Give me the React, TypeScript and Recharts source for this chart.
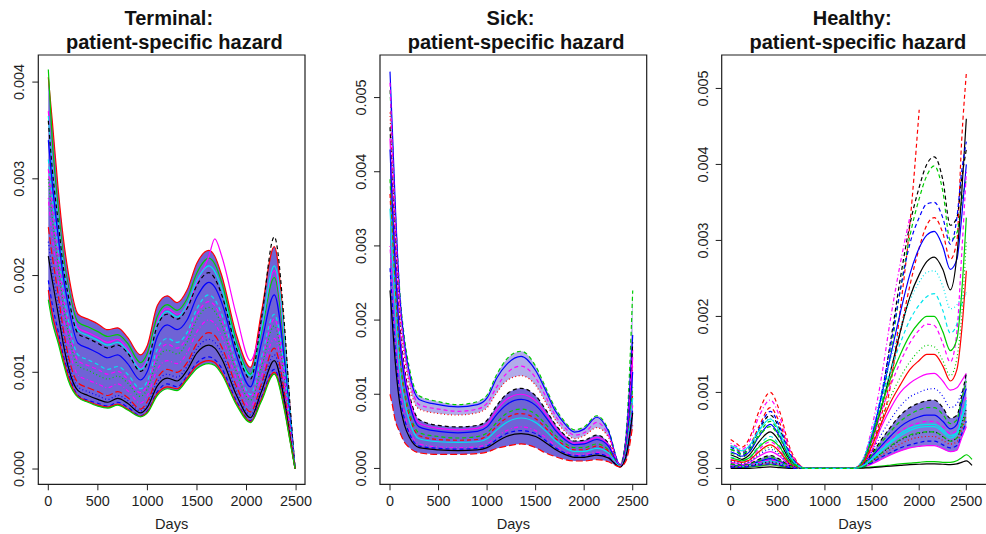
import { Area, ComposedChart, Line, ReferenceArea, XAxis, YAxis } from "recharts";

const FONT = "'Liberation Sans', Arial, Helvetica, sans-serif";
const INK = "#1e1e1e";
const BAND = "#3f2fc8";

// R's default palette and line types, as matplot cycles them
const COL: Record<string, string> = {
  black: "#000000",
  red: "#ff0000",
  green: "#00cd00",
  blue: "#0000ff",
  cyan: "#00e5ee",
  magenta: "#ff00ff",
};
const LTY: Record<string, string | undefined> = {
  solid: undefined,
  dashed: "4 3",
  dotted: "1 2.5",
  dotdash: "1 2.5 4 2.5",
  longdash: "7 3",
};

const dayTicks = [0, 500, 1000, 1500, 2000, 2500];

// hazard values below are in units of 0.001

// ---- Terminal ----
const terminalDays = [0, 40, 100, 150, 200, 300, 400, 500, 600, 700, 800, 930, 1000, 1100, 1200, 1300, 1400, 1500, 1620, 1680, 1750, 1900, 2040, 2150, 2280, 2380, 2440, 2490];
const terminalHazard = [
  [4.05, 3.6, 2.89, 2.4, 2.04, 1.6, 1.55, 1.5, 1.44, 1.46, 1.36, 1.18, 1.28, 1.69, 1.79, 1.72, 1.85, 2.13, 2.26, 2.2, 2.0, 1.38, 1.05, 1.62, 2.3, 1.45, 0.62, 0],
  [4.13, 3.4, 2.7, 2.22, 1.9, 1.52, 1.47, 1.42, 1.37, 1.39, 1.3, 1.1, 1.2, 1.58, 1.7, 1.64, 1.76, 2.03, 2.18, 2.12, 1.93, 1.3, 0.98, 1.42, 1.98, 1.28, 0.56, 0],
  [3.7, 3.2, 2.6, 2.15, 1.85, 1.46, 1.41, 1.36, 1.31, 1.34, 1.24, 1.04, 1.14, 1.52, 1.66, 1.6, 1.68, 1.93, 2.2, 2.38, 2.2, 1.58, 1.12, 1.48, 2.05, 1.35, 0.6, 0],
  [3.65, 3.15, 2.58, 2.12, 1.82, 1.43, 1.38, 1.33, 1.28, 1.31, 1.22, 1.03, 1.12, 1.5, 1.63, 1.57, 1.7, 1.95, 2.1, 2.04, 1.86, 1.27, 0.96, 1.45, 2.1, 1.4, 0.6, 0],
  [3.6, 3.1, 2.55, 2.1, 1.8, 1.4, 1.35, 1.3, 1.25, 1.28, 1.2, 1.01, 1.1, 1.48, 1.6, 1.55, 1.66, 1.9, 2.03, 1.97, 1.8, 1.24, 0.93, 1.55, 2.4, 1.52, 0.64, 0],
  [3.4, 2.95, 2.4, 2.0, 1.7, 1.3, 1.25, 1.2, 1.15, 1.18, 1.09, 0.92, 1.01, 1.37, 1.49, 1.44, 1.54, 1.78, 1.93, 1.88, 1.72, 1.17, 0.85, 1.3, 1.8, 1.15, 0.5, 0],
  [3.2, 2.8, 2.25, 1.85, 1.55, 1.18, 1.13, 1.08, 1.03, 1.06, 0.98, 0.83, 0.91, 1.24, 1.35, 1.31, 1.41, 1.66, 1.8, 1.75, 1.6, 1.08, 0.77, 1.15, 1.6, 1.04, 0.45, 0],
  [3.1, 2.7, 2.18, 1.78, 1.49, 1.12, 1.07, 1.03, 0.98, 1.01, 0.93, 0.79, 0.87, 1.18, 1.29, 1.25, 1.36, 1.6, 1.73, 1.69, 1.54, 1.04, 0.74, 1.1, 1.55, 1.0, 0.43, 0],
  [3.0, 2.6, 2.1, 1.7, 1.42, 1.07, 1.02, 0.97, 0.93, 0.96, 0.89, 0.75, 0.83, 1.13, 1.23, 1.19, 1.31, 1.55, 1.67, 1.63, 1.49, 1.0, 0.71, 1.05, 1.48, 0.95, 0.41, 0],
  [2.8, 2.4, 1.95, 1.58, 1.3, 0.97, 0.92, 0.88, 0.84, 0.88, 0.81, 0.68, 0.76, 1.03, 1.12, 1.09, 1.2, 1.42, 1.54, 1.5, 1.37, 0.92, 0.64, 0.95, 1.35, 0.88, 0.38, 0],
  [2.5, 2.2, 1.8, 1.45, 1.18, 0.89, 0.84, 0.8, 0.76, 0.8, 0.74, 0.62, 0.7, 0.94, 1.03, 1.0, 1.1, 1.3, 1.41, 1.38, 1.26, 0.85, 0.59, 0.88, 1.25, 0.8, 0.35, 0],
  [2.35, 2.05, 1.7, 1.38, 1.12, 0.85, 0.8, 0.76, 0.72, 0.76, 0.71, 0.6, 0.67, 0.9, 0.98, 0.95, 1.06, 1.25, 1.34, 1.31, 1.2, 0.8, 0.56, 0.84, 1.18, 0.76, 0.33, 0],
  [2.2, 1.95, 1.6, 1.3, 1.06, 0.81, 0.76, 0.72, 0.69, 0.73, 0.68, 0.58, 0.64, 0.86, 0.94, 0.91, 1.02, 1.2, 1.28, 1.25, 1.14, 0.76, 0.53, 0.8, 1.12, 0.72, 0.32, 0],
  [1.95, 1.7, 1.42, 1.18, 1.0, 0.76, 0.71, 0.68, 0.65, 0.69, 0.64, 0.55, 0.6, 0.8, 0.88, 0.85, 0.96, 1.1, 1.16, 1.13, 1.04, 0.7, 0.5, 0.74, 1.03, 0.66, 0.3, 0],
  [1.85, 1.6, 1.36, 1.14, 0.96, 0.75, 0.7, 0.66, 0.64, 0.67, 0.62, 0.545, 0.59, 0.78, 0.85, 0.83, 0.94, 1.07, 1.12, 1.1, 1.0, 0.68, 0.49, 0.72, 1.0, 0.64, 0.29, 0],
  [1.75, 1.52, 1.3, 1.1, 0.92, 0.74, 0.69, 0.65, 0.63, 0.66, 0.61, 0.54, 0.58, 0.76, 0.83, 0.81, 0.92, 1.04, 1.09, 1.07, 0.98, 0.66, 0.48, 0.7, 0.98, 0.62, 0.28, 0],
];
const terminalStyle = [
  ["red", "solid"], ["green", "solid"], ["magenta", "solid"], ["cyan", "solid"],
  ["black", "dashed"], ["blue", "solid"], ["cyan", "dashed"], ["magenta", "dashed"],
  ["green", "dotted"], ["magenta", "dotdash"], ["red", "longdash"], ["blue", "dotted"],
  ["black", "solid"], ["blue", "dashed"], ["red", "solid"], ["green", "solid"],
];

// ---- Sick ----
const sickDays = [0, 25, 50, 100, 150, 200, 300, 500, 700, 900, 1000, 1100, 1200, 1350, 1500, 1600, 1700, 1800, 1900, 2000, 2130, 2250, 2370, 2430, 2500];
const sickHazard = [
  [5.1, 4.4, 3.6, 2.4, 1.75, 1.35, 0.98, 0.9, 0.86, 0.9, 0.99, 1.27, 1.47, 1.58, 1.38, 1.1, 0.82, 0.63, 0.52, 0.56, 0.71, 0.52, 0.05, 0.45, 2.4],
  [5.35, 4.55, 3.7, 2.35, 1.68, 1.28, 0.93, 0.86, 0.83, 0.86, 0.95, 1.22, 1.4, 1.51, 1.32, 1.06, 0.78, 0.6, 0.49, 0.53, 0.69, 0.5, 0.05, 0.4, 1.8],
  [5.2, 4.3, 3.5, 2.25, 1.6, 1.22, 0.86, 0.8, 0.77, 0.8, 0.88, 1.1, 1.28, 1.38, 1.22, 0.98, 0.72, 0.55, 0.45, 0.48, 0.62, 0.45, 0.04, 0.35, 1.6],
  [4.8, 4.0, 3.3, 2.1, 1.5, 1.12, 0.8, 0.74, 0.72, 0.75, 0.82, 1.02, 1.18, 1.25, 1.12, 0.9, 0.66, 0.5, 0.4, 0.44, 0.55, 0.42, 0.04, 0.32, 1.4],
  [4.6, 3.8, 3.1, 1.95, 1.35, 1.0, 0.66, 0.58, 0.56, 0.58, 0.65, 0.85, 1.0, 1.08, 0.98, 0.8, 0.6, 0.45, 0.37, 0.38, 0.45, 0.34, 0.04, 0.3, 1.7],
  [4.45, 3.65, 2.97, 1.85, 1.28, 0.94, 0.61, 0.54, 0.52, 0.54, 0.6, 0.79, 0.93, 1.0, 0.91, 0.75, 0.56, 0.42, 0.34, 0.35, 0.42, 0.32, 0.04, 0.29, 1.5],
  [4.3, 3.5, 2.85, 1.75, 1.2, 0.88, 0.56, 0.5, 0.48, 0.5, 0.56, 0.73, 0.86, 0.93, 0.85, 0.7, 0.52, 0.39, 0.32, 0.33, 0.39, 0.3, 0.03, 0.28, 1.3],
  [3.9, 3.2, 2.55, 1.55, 1.05, 0.76, 0.48, 0.43, 0.41, 0.43, 0.48, 0.62, 0.74, 0.8, 0.73, 0.6, 0.45, 0.34, 0.28, 0.28, 0.33, 0.25, 0.03, 0.25, 1.1],
  [3.7, 3.02, 2.4, 1.45, 0.97, 0.7, 0.44, 0.39, 0.38, 0.39, 0.44, 0.57, 0.68, 0.74, 0.67, 0.55, 0.41, 0.31, 0.25, 0.25, 0.3, 0.23, 0.03, 0.23, 1.0],
  [3.5, 2.85, 2.25, 1.35, 0.9, 0.64, 0.4, 0.36, 0.35, 0.36, 0.4, 0.52, 0.62, 0.68, 0.62, 0.51, 0.38, 0.28, 0.23, 0.23, 0.27, 0.21, 0.03, 0.22, 0.95],
  [3.0, 2.45, 1.9, 1.12, 0.74, 0.52, 0.33, 0.29, 0.28, 0.29, 0.33, 0.43, 0.51, 0.56, 0.51, 0.42, 0.31, 0.23, 0.19, 0.19, 0.22, 0.17, 0.02, 0.2, 0.85],
  [2.7, 2.2, 1.7, 1.0, 0.66, 0.47, 0.3, 0.27, 0.26, 0.27, 0.3, 0.39, 0.47, 0.51, 0.47, 0.38, 0.28, 0.21, 0.17, 0.17, 0.2, 0.15, 0.02, 0.18, 0.8],
  [2.4, 1.95, 1.5, 0.88, 0.58, 0.42, 0.28, 0.25, 0.24, 0.25, 0.28, 0.36, 0.43, 0.47, 0.43, 0.35, 0.26, 0.19, 0.15, 0.15, 0.18, 0.14, 0.02, 0.16, 0.75],
  [1.0, 0.85, 0.67, 0.49, 0.35, 0.28, 0.21, 0.19, 0.19, 0.2, 0.22, 0.27, 0.3, 0.33, 0.28, 0.21, 0.16, 0.12, 0.1, 0.1, 0.12, 0.09, 0.02, 0.1, 0.58],
];
const sickStyle = [
  ["green", "dashed"], ["blue", "solid"], ["magenta", "dashed"], ["red", "dotted"],
  ["black", "dashed"], ["magenta", "solid"], ["blue", "solid"], ["green", "dashed"],
  ["red", "dashed"], ["cyan", "solid"], ["magenta", "dotdash"], ["blue", "dashed"],
  ["black", "solid"], ["red", "longdash"],
];

// ---- Healthy ----
const healthyDays = [0, 60, 120, 200, 300, 420, 520, 620, 720, 800, 1300, 1400, 1500, 1600, 1700, 1800, 1900, 2000, 2080, 2160, 2250, 2330, 2400, 2450, 2500, 2560];
const healthyHazard: (number | null)[][] = [
  [0.38, 0.33, 0.28, 0.4, 0.75, 1.0, 0.75, 0.3, 0.06, 0, 0, 0.03, 0.22, 0.6, 1.12, 2.1, 3.2, 4.72, null, null, null, null, null, null, null, null],
  [0.3, 0.26, 0.22, 0.3, 0.55, 0.8, 0.6, 0.25, 0.05, 0, 0, 0.05, 0.3, 0.7, 1.2, 1.8, 2.4, 2.9, 3.2, 3.3, 3.1, 2.75, 3.0, 4.3, 5.2, null],
  [0.25, 0.22, 0.18, 0.25, 0.5, 0.7, 0.52, 0.2, 0.04, 0, 0, 0.08, 0.4, 0.95, 1.7, 2.5, 3.2, 3.7, 4.0, 4.1, 3.8, 3.2, 3.3, 3.8, 4.2, null],
  [0.2, 0.18, 0.15, 0.22, 0.45, 0.62, 0.45, 0.18, 0.03, 0, 0, 0.07, 0.35, 0.85, 1.55, 2.35, 3.05, 3.55, 3.85, 3.98, 3.65, 3.0, 3.1, 3.5, 3.8, null],
  [0.22, 0.19, 0.16, 0.22, 0.42, 0.58, 0.42, 0.15, 0.03, 0, 0, 0.1, 0.45, 0.95, 1.5, 2.05, 2.55, 2.9, 3.07, 3.12, 2.92, 2.62, 2.75, 3.3, 4.0, null],
  [0.18, 0.15, 0.12, 0.18, 0.35, 0.48, 0.35, 0.12, 0.02, 0, 0, 0.08, 0.38, 0.8, 1.3, 1.8, 2.25, 2.55, 2.72, 2.78, 2.62, 2.35, 2.8, 3.6, 4.6, null],
  [0.15, 0.13, 0.1, 0.15, 0.3, 0.42, 0.3, 0.1, 0.02, 0, 0, 0.1, 0.45, 0.9, 1.3, 1.65, 1.95, 2.15, 2.26, 2.3, 2.08, 1.78, 1.9, 2.15, 2.32, null],
  [0.12, 0.1, 0.08, 0.12, 0.25, 0.35, 0.25, 0.08, 0.01, 0, 0, 0.07, 0.35, 0.75, 1.1, 1.4, 1.65, 1.82, 1.9, 1.88, 1.65, 1.4, 1.8, 2.8, 3.9, null],
  [0.1, 0.09, 0.07, 0.1, 0.2, 0.28, 0.2, 0.06, 0.01, 0, 0, 0.06, 0.3, 0.65, 0.95, 1.2, 1.4, 1.55, 1.62, 1.6, 1.42, 1.22, 1.45, 2.0, 3.0, null],
  [0.08, 0.07, 0.05, 0.08, 0.16, 0.22, 0.16, 0.05, 0.01, 0, 0, 0.05, 0.25, 0.55, 0.8, 1.0, 1.12, 1.2, 1.24, 1.25, 1.15, 1.03, 1.06, 1.15, 1.25, null],
  [0.06, 0.05, 0.04, 0.06, 0.12, 0.17, 0.12, 0.04, 0.01, 0, 0, 0.05, 0.2, 0.38, 0.55, 0.7, 0.8, 0.86, 0.89, 0.9, 0.8, 0.66, 0.7, 0.95, 1.25, null],
  [0.04, 0.035, 0.03, 0.05, 0.09, 0.13, 0.09, 0.03, 0, 0, 0, 0.04, 0.16, 0.3, 0.43, 0.55, 0.63, 0.68, 0.7, 0.7, 0.62, 0.52, 0.58, 0.85, 1.05, null],
  [0.03, 0.025, 0.02, 0.04, 0.07, 0.1, 0.07, 0.02, 0, 0, 0, 0.03, 0.12, 0.23, 0.34, 0.43, 0.5, 0.54, 0.55, 0.55, 0.48, 0.4, 0.45, 0.65, 0.85, null],
  [0.02, 0.02, 0.015, 0.03, 0.05, 0.07, 0.05, 0.015, 0, 0, 0, 0.02, 0.09, 0.17, 0.25, 0.32, 0.38, 0.41, 0.42, 0.42, 0.37, 0.32, 0.35, 0.5, 0.7, null],
  [0.015, 0.012, 0.01, 0.02, 0.035, 0.05, 0.035, 0.01, 0, 0, 0, 0.015, 0.06, 0.12, 0.18, 0.23, 0.27, 0.29, 0.3, 0.3, 0.26, 0.22, 0.24, 0.4, 0.55, null],
  [0.02, 0.02, 0.01, 0.02, 0.03, 0.05, 0.03, 0.01, 0, 0, 0, 0.01, 0.02, 0.03, 0.045, 0.06, 0.07, 0.08, 0.09, 0.09, 0.08, 0.08, 0.1, 0.14, 0.18, 0.12],
  [0, 0, 0, 0, 0.01, 0.02, 0.01, 0, 0, 0, 0, 0.005, 0.01, 0.02, 0.03, 0.04, 0.05, 0.055, 0.06, 0.06, 0.055, 0.05, 0.06, 0.08, 0.1, 0.04],
  [0.33, 0.29, 0.25, 0.36, 0.68, 0.9, 0.68, 0.27, 0.05, 0, 0, 0.1, 0.55, 1.2, 2.0, 2.7, 3.3, null, null, null, null, null, null, null, null, null],
  [0.28, 0.24, 0.2, 0.28, 0.52, 0.75, 0.55, 0.22, 0.04, 0, 0, 0.08, 0.42, 0.98, 1.65, 2.35, 2.95, 3.3, 3.48, 3.5, 3.3, 2.95, 3.3, 3.9, 4.3, null],
  [0.26, 0.23, 0.19, 0.26, 0.48, 0.66, 0.48, 0.19, 0.03, 0, 0, 0.12, 0.5, 1.0, 1.45, 1.85, 2.2, 2.45, 2.58, 2.6, 2.4, 2.1, 2.15, 2.25, 2.3, null],
  [0.14, 0.12, 0.1, 0.14, 0.28, 0.38, 0.28, 0.09, 0.02, 0, 0, 0.08, 0.4, 0.82, 1.2, 1.5, 1.75, 1.92, 2.0, 2.0, 1.8, 1.55, 1.7, 2.3, 3.3, null],
  [0.11, 0.1, 0.08, 0.11, 0.22, 0.31, 0.22, 0.07, 0.01, 0, 0, 0.06, 0.3, 0.6, 0.88, 1.1, 1.3, 1.42, 1.5, 1.5, 1.35, 1.15, 1.3, 1.8, 2.6, null],
  [0.09, 0.08, 0.06, 0.09, 0.18, 0.25, 0.18, 0.06, 0.01, 0, 0, 0.05, 0.22, 0.45, 0.65, 0.82, 0.94, 1.0, 1.04, 1.05, 0.95, 0.8, 0.85, 1.0, 1.1, null],
  [0.05, 0.045, 0.035, 0.055, 0.1, 0.15, 0.1, 0.035, 0, 0, 0, 0.045, 0.18, 0.34, 0.49, 0.62, 0.71, 0.77, 0.8, 0.8, 0.71, 0.59, 0.64, 0.9, 1.15, null],
  [0.035, 0.03, 0.025, 0.045, 0.08, 0.11, 0.08, 0.025, 0, 0, 0, 0.035, 0.14, 0.27, 0.38, 0.49, 0.56, 0.6, 0.62, 0.62, 0.55, 0.46, 0.5, 0.72, 0.95, null],
  [0.025, 0.022, 0.018, 0.035, 0.06, 0.085, 0.06, 0.018, 0, 0, 0, 0.025, 0.1, 0.2, 0.29, 0.37, 0.43, 0.46, 0.48, 0.48, 0.42, 0.36, 0.4, 0.58, 0.78, null],
  [0.018, 0.015, 0.012, 0.025, 0.042, 0.06, 0.042, 0.012, 0, 0, 0, 0.018, 0.075, 0.15, 0.21, 0.27, 0.31, 0.34, 0.36, 0.36, 0.31, 0.27, 0.3, 0.45, 0.62, null],
  [0.3, 0.27, 0.23, 0.3, 0.5, 0.65, 0.48, 0.18, 0.03, 0, 0, 0.03, 0.13, 0.25, 0.36, 0.46, 0.53, 0.57, 0.58, 0.58, 0.51, 0.43, 0.47, 0.68, 0.9, null],
  [0.25, 0.22, 0.19, 0.25, 0.42, 0.55, 0.4, 0.15, 0.02, 0, 0, 0.02, 0.1, 0.2, 0.3, 0.38, 0.44, 0.47, 0.48, 0.48, 0.42, 0.36, 0.4, 0.55, 0.72, null],
];
const healthyStyle = [
  ["red", "dashed"], ["red", "dashed"], ["black", "dashed"], ["green", "dashed"],
  ["blue", "solid"], ["black", "solid"], ["cyan", "dashed"], ["magenta", "dashed"],
  ["green", "dotted"], ["magenta", "solid"], ["black", "dashed"], ["blue", "solid"],
  ["cyan", "solid"], ["red", "dotted"], ["magenta", "solid"], ["green", "solid"],
  ["black", "solid"], ["magenta", "dotdash"], ["blue", "dashed"], ["cyan", "dotted"],
  ["green", "solid"], ["red", "solid"], ["blue", "dotted"], ["green", "dashed"],
  ["magenta", "dashed"], ["black", "dotted"], ["blue", "dashed"], ["cyan", "solid"],
  ["green", "dashed"],
];

type Band = [number, number, number]; // lower curve, upper curve, opacity

type PanelProps = {
  left: number;
  width: number;
  plotLeft: number;
  plotRight: number;
  days: number[];
  curves: (number | null)[][];
  styles: string[][];
  bands: Band[];
  xDomain: [number, number];
  yDomain: [number, number];
  yTicks: number[];
};

const renderYTick = (p: any) => (
  <text
    x={p.x}
    y={p.y}
    transform={`rotate(-90 ${p.x} ${p.y})`}
    textAnchor="middle"
    fill={INK}
    fontSize={14.4}
    fontFamily={FONT}
  >
    {(p.payload.value / 1000).toFixed(3)}
  </text>
);

function Panel({ left, width, plotLeft, plotRight, days, curves, styles, bands, xDomain, yDomain, yTicks }: PanelProps) {
  const rows = days.map((day, i) => {
    const row: Record<string, number | null> = { day };
    curves.forEach((c, j) => {
      row[`c${j}`] = c[i];
    });
    return row;
  });
  return (
    <div style={{ position: "absolute", left, top: 0 }}>
      <ComposedChart
        width={width}
        height={534}
        data={rows}
        margin={{ top: 55, right: left + width - plotRight, bottom: 0, left: 0 }}
      >
        <XAxis
          dataKey="day"
          type="number"
          domain={xDomain}
          allowDataOverflow
          ticks={dayTicks}
          interval={0}
          height={49.7}
          axisLine={false}
          tickSize={6}
          tickMargin={5}
          tickLine={{ stroke: INK }}
          tick={{ fill: INK, fontSize: 14.4, fontFamily: FONT }}
          label={{ value: "Days", position: "insideBottom", offset: 5, fill: INK, fontSize: 14.6, fontFamily: FONT }}
        />
        <YAxis
          type="number"
          domain={yDomain}
          allowDataOverflow
          ticks={yTicks}
          interval={0}
          width={plotLeft - left}
          axisLine={false}
          tickSize={6}
          tickMargin={8}
          tickLine={{ stroke: INK }}
          tick={renderYTick}
        />
        {bands.map(([lo, hi, opacity]) => (
          <Area
            key={`band${lo}`}
            type="monotone"
            dataKey={(r: any) => [r[`c${lo}`], r[`c${hi}`]]}
            stroke="none"
            fill={BAND}
            fillOpacity={opacity}
            isAnimationActive={false}
            activeDot={false}
          />
        ))}
        {curves.map((_, j) => (
          <Line
            key={j}
            type="monotone"
            dataKey={`c${j}`}
            stroke={COL[styles[j][0]]}
            strokeDasharray={LTY[styles[j][1]]}
            strokeWidth={1.2}
            dot={false}
            activeDot={false}
            isAnimationActive={false}
          />
        ))}
        <ReferenceArea
          x1={xDomain[0]}
          x2={xDomain[1]}
          y1={yDomain[0]}
          y2={yDomain[1]}
          fill="none"
          stroke={INK}
          strokeWidth={1.2}
          ifOverflow="visible"
        />
      </ComposedChart>
    </div>
  );
}

const titles = [
  { name: "Terminal:", center: 171.6 },
  { name: "Sick:", center: 513.3 },
  { name: "Healthy:", center: 855 },
];

export default function App() {
  return (
    <div
      style={{
        position: "absolute",
        left: 0,
        top: 0,
        width: 986,
        height: 534,
        overflow: "hidden",
        background: "#fff",
      }}
    >
      <Panel
        left={0}
        width={330}
        plotLeft={38.3}
        plotRight={305}
        days={terminalDays}
        curves={terminalHazard}
        styles={terminalStyle}
        bands={[[15, 0, 0.75]]}
        xDomain={[-101, 2590]}
        yDomain={[-0.158, 4.28]}
        yTicks={[0, 1, 2, 3, 4]}
      />
      <Panel
        left={330}
        width={330}
        plotLeft={380}
        plotRight={646.7}
        days={sickDays}
        curves={sickHazard}
        styles={sickStyle}
        bands={[[3, 0, 0.4], [13, 4, 0.75]]}
        xDomain={[-103, 2644]}
        yDomain={[-0.214, 5.574]}
        yTicks={[0, 1, 2, 3, 4, 5]}
      />
      <Panel
        left={660}
        width={330}
        plotLeft={721.7}
        plotRight={988.2}
        days={healthyDays}
        curves={healthyHazard}
        styles={healthyStyle}
        bands={[[14, 10, 0.65]]}
        xDomain={[-95, 2732]}
        yDomain={[-0.209, 5.44]}
        yTicks={[0, 1, 2, 3, 4, 5]}
      />
      <svg width={986} height={534} style={{ position: "absolute", left: 0, top: 0, pointerEvents: "none" }}>
        {titles.map((t) => (
          <g key={t.name} fontFamily={FONT} fontWeight="bold" fontSize={20} fill="#111" textAnchor="middle">
            <text x={t.center - 2.8} y={25}>
              {t.name}
            </text>
            <text x={t.center + 2.8} y={48.5}>
              patient-specific hazard
            </text>
          </g>
        ))}
      </svg>
    </div>
  );
}
